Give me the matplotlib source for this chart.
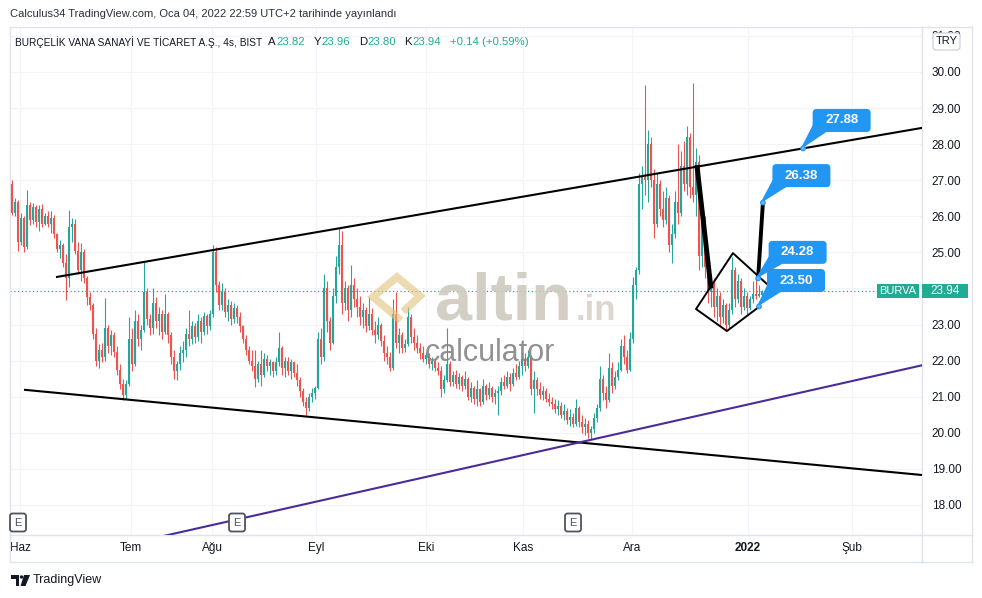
import matplotlib
matplotlib.use('Agg')
import matplotlib.pyplot as plt
import numpy as np
from matplotlib.patches import FancyBboxPatch, Polygon, Circle, Rectangle
from matplotlib.lines import Line2D

plt.rcParams['font.family'] = ['Liberation Sans', 'DejaVu Sans']

# 4h bars of BURVA (x = bar number)
opens = [26.90, 26.10, 26.40, 25.30, 25.95, 25.15, 26.30, 25.90, 26.25, 25.85,
         26.20, 25.80, 26.00, 25.78, 25.95, 25.50, 25.10, 25.20, 24.70, 24.30,
         25.70, 25.80, 25.05, 24.50, 25.00, 24.30, 23.75, 23.55, 22.75, 22.00,
         22.30, 22.10, 22.90, 22.40, 22.70, 22.25, 21.75, 21.35, 21.05, 21.35,
         22.60, 21.90, 23.10, 22.60, 22.85, 23.90, 23.15, 22.90, 23.60, 23.10,
         23.30, 22.80, 23.30, 22.70, 22.10, 21.70, 21.90, 22.20, 22.30, 22.75,
         22.60, 22.95, 22.65, 23.10, 22.80, 23.25, 22.95, 23.30, 25.00, 24.10,
         23.55, 23.90, 23.35, 23.55, 23.15, 23.45, 23.20, 22.95, 22.60, 22.30,
         22.00, 21.85, 21.50, 21.90, 21.60, 22.05, 21.85, 21.95, 21.70, 21.95,
         22.35, 21.80, 22.00, 21.70, 21.95, 21.65, 21.45, 21.15, 20.85, 20.70,
         21.00, 21.10, 21.25, 22.60, 22.10, 24.00, 23.10, 22.50, 23.80, 24.60,
         25.20, 23.60, 24.00, 23.40, 24.10, 23.70, 23.50, 23.20, 23.40, 22.95,
         23.30, 22.85, 22.70, 23.00, 22.55, 22.20, 22.10, 21.80, 23.30, 22.50,
         22.70, 22.35, 22.45, 23.20, 22.65, 22.50, 22.35, 22.20, 22.05, 22.15,
         21.90, 22.00, 21.80, 21.70, 21.20, 21.45, 21.90, 21.40, 21.60, 21.35,
         21.55, 21.30, 21.50, 21.00, 21.25, 20.95, 21.20, 20.85, 21.30, 21.05,
         21.25, 21.00, 21.10, 21.15, 21.40, 21.30, 21.55, 21.35, 21.65, 21.55,
         21.85, 22.05, 21.85, 22.10, 21.20, 21.45, 21.20, 21.05, 21.15, 20.95,
         20.85, 20.80, 20.65, 20.75, 20.50, 20.60, 20.35, 20.45, 20.25, 20.70,
         20.30, 20.15, 20.25, 20.00, 20.10, 20.40, 20.70, 21.50, 21.10, 20.90,
         21.80, 21.30, 21.55, 21.75, 22.40, 22.10, 21.75, 22.60, 24.10, 24.50,
         26.90, 27.10, 27.00, 28.00, 27.00, 25.80, 26.90, 26.20, 25.90, 26.50,
         25.20, 25.50, 26.40, 26.10, 27.40, 26.90, 28.20, 26.80, 26.60, 27.50,
         24.90, 25.90, 24.60, 23.90, 24.20, 23.50, 23.80, 23.20, 23.55, 23.00,
         23.40, 24.50, 23.70, 24.20, 23.50, 23.80, 23.45, 23.70, 23.85, 23.80,
         23.82]
highs = [27.02, 26.50, 26.45, 26.10, 26.00, 26.72, 26.40, 26.38, 26.30, 26.30,
         26.35, 26.10, 26.15, 26.15, 26.05, 25.55, 25.35, 25.25, 24.95, 26.18,
         25.95, 25.92, 25.30, 25.26, 25.10, 24.35, 23.90, 23.60, 22.90, 22.45,
         22.50, 23.74, 23.00, 22.85, 22.80, 22.40, 21.90, 21.50, 21.45, 23.20,
         22.90, 23.40, 23.30, 23.00, 24.73, 24.00, 23.30, 24.00, 23.75, 23.50,
         23.40, 23.85, 23.35, 22.80, 22.30, 22.00, 22.40, 22.55, 22.90, 23.40,
         23.10, 23.05, 23.30, 23.20, 23.35, 23.30, 23.40, 25.20, 25.15, 24.20,
         24.14, 24.00, 23.70, 23.65, 23.60, 23.55, 23.35, 23.00, 22.70, 22.40,
         22.30, 22.30, 22.00, 22.30, 22.20, 22.15, 22.05, 22.00, 22.10, 22.80,
         22.40, 22.10, 22.10, 22.05, 22.00, 21.90, 21.55, 21.25, 21.00, 21.10,
         21.25, 21.30, 22.80, 22.90, 24.40, 24.20, 23.20, 24.00, 24.90, 25.67,
         25.60, 24.20, 24.10, 24.65, 24.30, 24.00, 23.80, 23.60, 23.50, 23.75,
         23.45, 23.10, 23.20, 23.05, 22.70, 22.40, 22.25, 23.70, 23.90, 22.90,
         22.80, 22.60, 23.50, 23.30, 22.90, 22.70, 22.50, 22.40, 22.25, 22.20,
         22.10, 22.05, 21.95, 21.85, 21.60, 22.90, 22.00, 21.70, 21.75, 21.65,
         21.60, 21.70, 21.55, 21.40, 21.30, 21.45, 21.25, 21.50, 21.35, 21.40,
         21.30, 21.20, 21.30, 21.55, 21.60, 21.70, 21.65, 21.80, 21.90, 22.00,
         22.20, 22.20, 22.30, 22.15, 21.70, 21.55, 21.40, 21.30, 21.25, 21.10,
         21.00, 20.95, 20.90, 20.85, 20.80, 20.70, 20.65, 20.55, 20.95, 20.75,
         20.50, 20.40, 20.35, 20.20, 20.55, 20.80, 21.85, 21.60, 21.30, 22.20,
         21.95, 21.70, 21.95, 22.60, 22.70, 22.30, 22.80, 24.33, 24.60, 27.20,
         27.40, 29.64, 28.40, 28.20, 27.30, 27.20, 27.00, 26.70, 26.80, 26.60,
         25.80, 26.70, 28.00, 27.80, 28.10, 28.50, 28.30, 29.70, 27.90, 27.70,
         26.30, 26.00, 24.80, 24.40, 24.30, 24.00, 23.90, 23.70, 23.60, 23.60,
         24.87, 24.60, 24.40, 24.30, 24.00, 23.90, 23.80, 24.20, 24.40, 24.10,
         23.96]
lows = [26.05, 26.00, 25.05, 25.20, 25.02, 25.10, 25.75, 25.80, 25.70, 25.60,
        25.70, 25.75, 25.70, 25.55, 25.40, 25.00, 24.85, 24.60, 23.68, 24.05,
        25.30, 24.95, 24.40, 24.20, 24.15, 23.55, 23.40, 22.60, 21.85, 21.80,
        21.95, 22.00, 22.20, 22.15, 22.10, 21.60, 21.20, 20.91, 20.95, 21.30,
        21.70, 21.85, 22.40, 22.30, 22.80, 23.00, 22.70, 22.75, 22.90, 22.70,
        22.60, 22.75, 22.50, 21.90, 21.50, 21.46, 21.75, 21.95, 22.10, 22.40,
        22.45, 22.50, 22.55, 22.50, 22.70, 22.75, 22.85, 23.20, 23.90, 23.40,
        23.40, 23.20, 23.10, 23.00, 23.05, 23.05, 22.80, 22.50, 22.15, 21.90,
        21.70, 21.27, 21.40, 21.30, 21.55, 21.70, 21.60, 21.55, 21.60, 21.85,
        21.60, 21.55, 21.60, 21.50, 21.55, 21.30, 21.00, 20.75, 20.49, 20.60,
        20.85, 20.95, 21.20, 21.90, 22.00, 22.80, 22.30, 22.45, 23.60, 24.40,
        23.30, 23.40, 23.10, 23.20, 23.50, 23.20, 23.00, 22.90, 22.80, 22.85,
        22.70, 22.50, 22.60, 22.40, 22.00, 21.90, 21.70, 21.75, 22.35, 22.20,
        22.20, 22.25, 22.40, 22.50, 22.30, 22.20, 22.05, 21.95, 21.90, 21.80,
        21.75, 21.70, 21.60, 21.00, 21.10, 21.40, 21.30, 21.30, 21.25, 21.20,
        21.15, 21.20, 20.90, 20.85, 20.80, 20.75, 20.75, 20.80, 20.90, 20.95,
        20.85, 20.80, 20.50, 21.05, 21.20, 21.25, 21.15, 21.30, 21.45, 21.50,
        21.60, 21.70, 21.80, 21.05, 20.55, 21.05, 20.95, 20.90, 20.85, 20.75,
        20.65, 20.55, 20.50, 20.40, 20.35, 20.25, 20.20, 20.15, 20.20, 20.15,
        20.00, 19.95, 19.85, 19.84, 20.00, 20.30, 20.60, 20.90, 20.70, 20.85,
        21.10, 21.20, 21.45, 21.70, 21.90, 21.65, 21.70, 22.50, 23.70, 24.40,
        26.20, 26.60, 26.40, 26.80, 25.40, 25.70, 26.00, 25.70, 25.80, 25.00,
        24.70, 25.40, 25.80, 26.00, 26.70, 26.60, 26.50, 26.40, 26.00, 24.50,
        24.60, 24.30, 23.60, 23.50, 23.20, 23.10, 23.00, 23.05, 22.85, 22.90,
        23.30, 23.50, 23.60, 23.30, 23.40, 23.30, 23.40, 23.60, 23.70, 23.75,
        23.80]
closes = [26.10, 26.40, 25.30, 25.95, 25.15, 26.30, 25.90, 26.25, 25.85, 26.20,
          25.80, 26.00, 25.78, 25.95, 25.50, 25.10, 25.20, 24.70, 24.30, 25.70,
          25.80, 25.05, 24.50, 25.00, 24.30, 23.75, 23.55, 22.75, 22.00, 22.30,
          22.10, 22.90, 22.40, 22.70, 22.25, 21.75, 21.35, 21.05, 21.35, 22.60,
          21.90, 23.10, 22.60, 22.85, 23.90, 23.15, 22.90, 23.60, 23.10, 23.30,
          22.80, 23.30, 22.70, 22.10, 21.70, 21.90, 22.20, 22.30, 22.75, 22.60,
          22.95, 22.65, 23.10, 22.80, 23.25, 22.95, 23.30, 25.00, 24.10, 23.55,
          23.90, 23.35, 23.55, 23.15, 23.45, 23.20, 22.95, 22.60, 22.30, 22.00,
          21.85, 21.50, 21.90, 21.60, 22.05, 21.85, 21.95, 21.70, 21.95, 22.35,
          21.80, 22.00, 21.70, 21.95, 21.65, 21.45, 21.15, 20.85, 20.70, 21.00,
          21.10, 21.25, 22.60, 22.10, 24.00, 23.10, 22.50, 23.80, 24.60, 25.20,
          23.60, 24.00, 23.40, 24.10, 23.70, 23.50, 23.20, 23.40, 22.95, 23.30,
          22.85, 22.70, 23.00, 22.55, 22.20, 22.10, 21.80, 23.30, 22.50, 22.70,
          22.35, 22.45, 23.20, 22.65, 22.50, 22.35, 22.20, 22.05, 22.15, 21.90,
          22.00, 21.80, 21.70, 21.20, 21.45, 21.90, 21.40, 21.60, 21.35, 21.55,
          21.30, 21.50, 21.00, 21.25, 20.95, 21.20, 20.85, 21.30, 21.05, 21.25,
          21.00, 21.10, 21.15, 21.40, 21.30, 21.55, 21.35, 21.65, 21.55, 21.85,
          22.05, 21.85, 22.10, 21.20, 21.45, 21.20, 21.05, 21.15, 20.95, 20.85,
          20.80, 20.65, 20.75, 20.50, 20.60, 20.35, 20.45, 20.25, 20.70, 20.30,
          20.15, 20.25, 20.00, 20.10, 20.40, 20.70, 21.50, 21.10, 20.90, 21.80,
          21.30, 21.55, 21.75, 22.40, 22.10, 21.75, 22.60, 24.10, 24.50, 26.90,
          27.10, 27.00, 28.00, 27.00, 25.80, 26.90, 26.20, 25.90, 26.50, 25.20,
          25.50, 26.40, 26.10, 27.40, 26.90, 28.20, 26.80, 26.60, 27.50, 24.90,
          25.90, 24.60, 23.90, 24.20, 23.50, 23.80, 23.20, 23.55, 23.00, 23.40,
          24.50, 23.70, 24.20, 23.50, 23.80, 23.45, 23.70, 23.85, 23.80, 23.82,
          23.94]

month_bars = [2.67, 39.67, 66.67, 101.33, 138, 170.33, 206.67, 245.33, 280]
month_labels = ['Haz', 'Tem', 'Ağu', 'Eyl', 'Eki', 'Kas', 'Ara', '2022', 'Şub']
price_ticks = list(range(18, 32))

# drawings (bar number, price)
upper_x, upper_y = [15, 303.3], [24.32, 28.45]
lower_x, lower_y = [4.33, 303.3], [21.19, 18.83]
support_x, support_y = [50, 303.3], [17.13, 21.87]
drop_x, drop_y = [228.3, 233], [27.42, 24.0]
diamond_x = [251.7, 240.3, 228, 238.3, 249]
diamond_y = [24.12, 24.98, 23.43, 22.82, 23.49]
jump_x, jump_y = [248.7, 250.3], [24.28, 26.38]
callout_bars = [263.7, 250.3, 248.7, 249]
callout_prices = [27.88, 26.38, 24.28, 23.50]
earnings_bars = [2, 75, 187]
last_price = 23.94

UP, DOWN, TEAL = '#26a69a', '#ef5350', '#22ab94'
BLUE, DARK, GRID, BORDER = '#2196f3', '#131722', '#f2f4f9', '#e0e3eb'

W, H = 982, 598
fig = plt.figure(figsize=(W / 100, H / 100), dpi=100)
ax = fig.add_axes([10 / W, 1 - 535 / H, 912 / W, 508 / H])

o, h, l, c = map(np.array, (opens, highs, lows, closes))
x = np.arange(len(c))
col = np.where(c >= o, UP, DOWN)
ax.vlines(x, l, h, colors=col, linewidth=0.8, zorder=3)
lo_b = np.minimum(o, c)
hi_b = np.maximum(np.maximum(o, c), lo_b + 0.04)
ax.vlines(x, lo_b, hi_b, colors=col, linewidth=1.5, zorder=3)

ax.set_xlim(-0.67, 303.33)
ax.set_ylim(17.167, 31.247)
ax.set_xticks(month_bars, month_labels)
ax.set_yticks(price_ticks, ['%.2f' % p for p in price_ticks])
ax.yaxis.tick_right()
ax.tick_params(axis='x', length=0, pad=5, labelsize=8.5, labelcolor=DARK)
ax.tick_params(axis='y', length=0, pad=7, labelsize=8.5, labelcolor=DARK)
for t in ax.get_xticklabels():
    if t.get_text() == '2022':
        t.set_fontweight('bold')
ax.grid(color=GRID, linewidth=0.8, zorder=0)
for s in ax.spines.values():
    s.set_color(BORDER)
    s.set_linewidth(1)

# frame around price / time scales
for xs, ys in [([922, 972], [27, 27]), ([972, 972], [27, 562]), ([10, 972], [562, 562]),
               ([10, 10], [535, 562]), ([922, 972], [535, 535]), ([922, 922], [535, 562])]:
    fig.add_artist(Line2D([v / W for v in xs], [1 - v / H for v in ys], color=BORDER, lw=1))

# trend lines and pattern
ax.plot(upper_x, upper_y, color='black', lw=1.5, zorder=4)
ax.plot(lower_x, lower_y, color='black', lw=1.5, zorder=4)
ax.plot(support_x, support_y, color='#4a2b9a', lw=1.5, zorder=4)
ax.plot(drop_x, drop_y, color='black', lw=3.5, zorder=4, solid_capstyle='butt')
ax.plot(diamond_x, diamond_y, color='black', lw=1.4, zorder=4)
ax.plot(jump_x, jump_y, color='black', lw=2.8, zorder=4, solid_capstyle='butt')
ax.axhline(last_price, color=TEAL, lw=0.9, linestyle=(0, (1, 2)), zorder=2)


def disp(i, p):
    return ax.transData.transform((i, p))


# callouts
offsets = [(38.5, 28), (38.5, 27), (39.5, 26), (37, 26)]
for i, p, (dx, dy) in zip(callout_bars, callout_prices, offsets):
    axp, ayp = disp(i, p)
    cx, cy = axp + dx, ayp + dy
    bx, by = cx - 29, cy - 11.5
    fig.add_artist(Polygon([(axp - 1, ayp + 1), (bx + 2, by + 9), (bx + 14, by + 1)],
                           closed=True, fc=BLUE, ec=BLUE, lw=1, transform=None, zorder=5))
    fig.add_artist(FancyBboxPatch((bx, by), 58, 23, boxstyle='round,pad=0,rounding_size=4',
                                  fc=BLUE, ec='none', transform=None, zorder=5))
    fig.add_artist(Circle((axp, ayp), 2.3, fc='#64b5f6', ec=BLUE, lw=0.8, transform=None, zorder=6))
    fig.text(cx / W, cy / H, '%.2f' % p, color='white', fontsize=9.5, fontweight='bold',
             ha='center', va='center', zorder=7)

# earnings markers
for i in earnings_bars:
    ex = disp(i, 20)[0]
    ey = H - 522.5
    fig.add_artist(FancyBboxPatch((ex - 8, ey - 9), 16, 18, boxstyle='round,pad=0,rounding_size=2.5',
                                  fc='white', ec='#50535e', lw=1.3, transform=None, zorder=5))
    fig.text(ex / W, ey / H, 'E', color='#50535e', fontsize=8, ha='center', va='center', zorder=6)

# last price labels
yp = disp(0, last_price)[1]
fig.add_artist(Rectangle((877, yp - 7), 42, 14, fc=TEAL, ec='none', transform=None, zorder=5))
fig.text(898 / W, yp / H, 'BURVA', color='white', fontsize=8, ha='center', va='center', zorder=6)
fig.add_artist(Rectangle((922, yp - 7), 46, 14, fc=TEAL, ec='none', transform=None, zorder=5))
fig.text(945 / W, yp / H, '%.2f' % last_price, color='white', fontsize=8.5, ha='center', va='center', zorder=6)

# currency box (hides most of the top price label, as on the original)
fig.add_artist(FancyBboxPatch((933, H - 50), 27, 17, boxstyle='round,pad=0,rounding_size=3',
                              fc='white', ec='#c8cbd3', lw=0.8, transform=None, zorder=5))
fig.text(946.5 / W, (H - 41.5) / H, 'TRY', color=DARK, fontsize=8, ha='center', va='center', zorder=6)

# watermark
fig.add_artist(Line2D([398, 373, 397, 420, 406], [H - 318, H - 297, H - 277, H - 296, H - 309],
                      color='#e3c27a', lw=5.5, alpha=0.6, transform=None, zorder=8,
                      solid_joinstyle='miter'))
fig.text(435 / W, 1 - 320 / H, 'altin', color='#cdc7ba', fontsize=48, fontweight='bold',
         alpha=0.85, va='baseline', zorder=8)
fig.text(576 / W, 1 - 320 / H, '.in', color='#d6d1c5', fontsize=25, fontweight='bold',
         alpha=0.85, va='baseline', zorder=8)
fig.text(425 / W, 1 - 361 / H, 'calculator', color='#858585', fontsize=22,
         alpha=0.9, va='baseline', zorder=8)

# header
fig.text(10 / W, 1 - 14 / H, 'Calculus34 TradingView.com, Oca 04, 2022 22:59 UTC+2 tarihinde yayınlandı',
         color='#2a2e39', fontsize=8, va='center')
r = fig.canvas.get_renderer()
pieces = [('BURÇELİK VANA SANAYİ VE TİCARET A.Ş., 4s, BIST', DARK, 6, 7.3),
          ('A', DARK, 0.5, 8.2), ('23.82', TEAL, 8.5, 8.2), ('Y', DARK, 0.5, 8.2), ('23.96', TEAL, 8.5, 8.2),
          ('D', DARK, 0.5, 8.2), ('23.80', TEAL, 8.5, 8.2), ('K', DARK, 0.5, 8.2), ('23.94', TEAL, 8.5, 8.2),
          ('+0.14 (+0.59%)', TEAL, 0, 8.2)]
xpos = 15
for s, cl, gap, fs in pieces:
    t = fig.text(xpos / W, 1 - 42 / H, s, color=cl, fontsize=fs, va='center')
    xpos += t.get_window_extent(renderer=r).width + gap

# TradingView footer
for patch in [Rectangle((11, H - 578.5), 8, 3.5), Rectangle((15.5, H - 586), 3.5, 11),
              Circle((21.5, H - 577), 1.7), Polygon([(24, H - 575), (30, H - 575), (25.5, H - 586), (20.5, H - 586)])]:
    patch.set_transform(None)
    patch.set_facecolor(DARK)
    patch.set_edgecolor('none')
    fig.add_artist(patch)
fig.text(33 / W, 1 - 580 / H, 'TradingView', color=DARK, fontsize=9, va='center')

fig.savefig('out.png', dpi=100)
